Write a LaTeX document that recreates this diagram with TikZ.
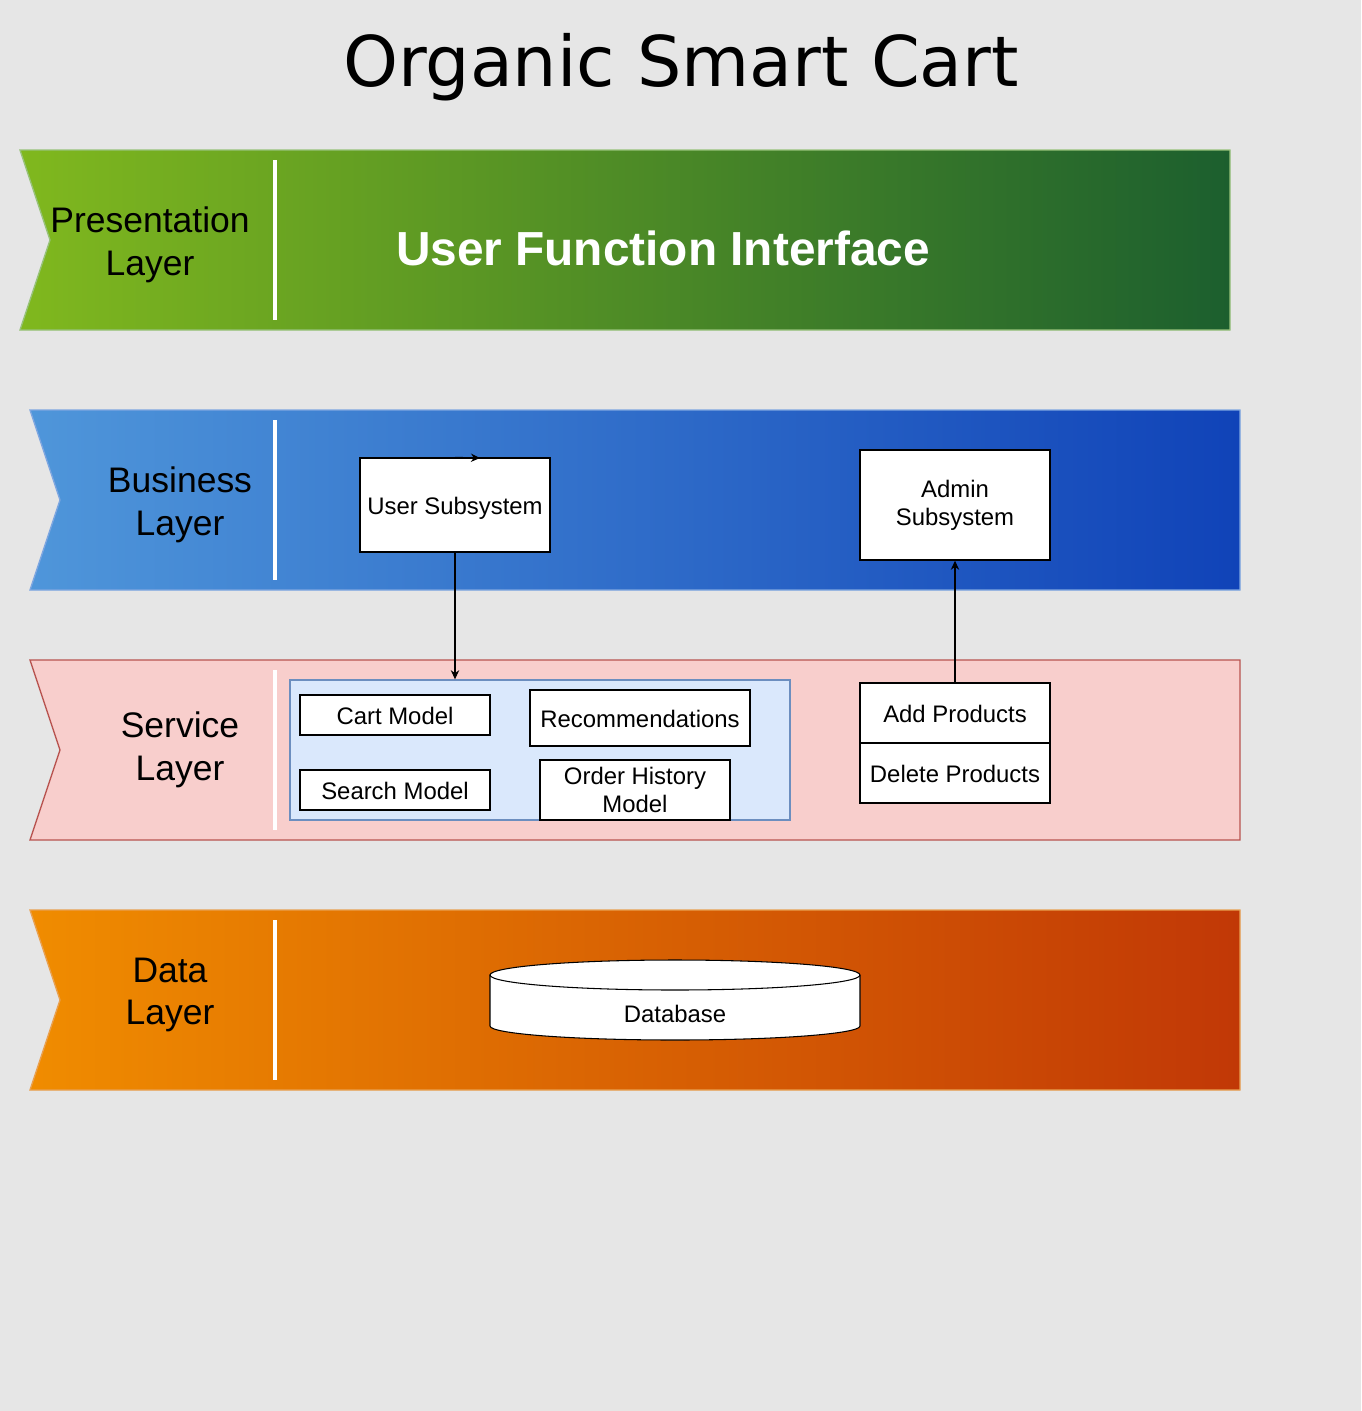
\documentclass[tikz,border=0pt]{standalone}
\usepackage{fontspec}
\setmainfont{Liberation Sans}
\newfontfamily\titlefont{DejaVu Sans}
\usetikzlibrary{arrows.meta}

\definecolor{bgcolor}{HTML}{E6E6E6}
\definecolor{presleft}{HTML}{80B81E}
\definecolor{presright}{HTML}{1C5F2E}
\definecolor{presline}{HTML}{97C27A}
\definecolor{busileft}{HTML}{4F96DA}
\definecolor{busiright}{HTML}{1043B8}
\definecolor{busiline}{HTML}{7EA6E0}
\definecolor{servfill}{HTML}{F8CECC}
\definecolor{servline}{HTML}{B85450}
\definecolor{dataleft}{HTML}{F08C00}
\definecolor{dataright}{HTML}{C13806}
\definecolor{dataline}{HTML}{E8A050}
\definecolor{groupfill}{HTML}{DAE8FC}
\definecolor{groupline}{HTML}{6C8EBF}

\tikzset{
  layerlabel/.style={align=center, font=\fontsize{10.1pt}{12.2pt}\selectfont},
  compbox/.style={draw=black, fill=white, inner sep=0pt, align=center,
    font=\fontsize{6.8pt}{8pt}\selectfont},
  oneline/.style={text height=6.6pt, text depth=1.4pt},
  link/.style={-{Stealth[length=2.6pt,width=2.4pt]}, line width=0.3pt},
  sepline/.style={white, line width=0.9pt}
}

\begin{document}
\begin{tikzpicture}
%background
\fill[bgcolor] (0,0) rectangle (13.61,-14.11);
\useasboundingbox (0,0) rectangle (13.61,-14.11);

\node[font=\titlefont\fontsize{19.9pt}{24pt}\selectfont] (title) at (6.81,-0.67) {Organic Smart Cart};

%layers
\draw[presline, left color=presleft, right color=presright] (0.2,-1.5) -- (12.3,-1.5) -- (12.3,-3.3) -- (0.2,-3.3) -- (0.5,-2.4) -- cycle;
\draw[busiline, left color=busileft, right color=busiright] (0.3,-4.1) -- (12.4,-4.1) -- (12.4,-5.9) -- (0.3,-5.9) -- (0.6,-5.0) -- cycle;
\draw[servline, fill=servfill] (0.3,-6.6) -- (12.4,-6.6) -- (12.4,-8.4) -- (0.3,-8.4) -- (0.6,-7.5) -- cycle;
\draw[dataline, left color=dataleft, right color=dataright] (0.3,-9.1) -- (12.4,-9.1) -- (12.4,-10.9) -- (0.3,-10.9) -- (0.6,-10.0) -- cycle;

\draw[sepline] (2.75,-1.6) -- (2.75,-3.2);
\draw[sepline] (2.75,-4.2) -- (2.75,-5.8);
\draw[sepline] (2.75,-6.7) -- (2.75,-8.3);
\draw[sepline] (2.75,-9.2) -- (2.75,-10.8);

\node[layerlabel] (pres) at (1.50,-2.45) {Presentation\\Layer};
\node[layerlabel] (busi) at (1.80,-5.05) {Business\\Layer};
\node[layerlabel] (serv) at (1.80,-7.50) {Service\\Layer};
\node[layerlabel] (data) at (1.70,-9.95) {Data\\Layer};

%presentation
\node[white, font=\bfseries\fontsize{13.6pt}{16pt}\selectfont] (ufi) at (6.63,-2.48) {User Function Interface};

%business
\node[compbox, oneline, minimum width=1.9cm, minimum height=0.94cm] (usersub) at (4.55,-5.05) {User Subsystem};
\node[compbox, minimum width=1.9cm, minimum height=1.1cm] (adminsub) at (9.55,-5.05) {Admin\\Subsystem};

%service
\node[draw=groupline, fill=groupfill, minimum width=5cm, minimum height=1.4cm, inner sep=0pt] (svcgroup) at (5.40,-7.50) {};
\node[compbox, oneline, minimum width=1.9cm, minimum height=0.4cm] (cart) at (3.95,-7.15) {Cart Model};
\node[compbox, oneline, minimum width=2.2cm, minimum height=0.56cm] (recom) at (6.40,-7.18) {Recommendations};
\node[compbox, oneline, minimum width=1.9cm, minimum height=0.4cm] (search) at (3.95,-7.90) {Search Model};
\node[compbox, minimum width=1.9cm, minimum height=0.6cm] (history) at (6.35,-7.90) {Order History\\Model};
\node[compbox, oneline, minimum width=1.9cm, minimum height=0.6cm] (addprod) at (9.55,-7.13) {Add Products};
\node[compbox, oneline, minimum width=1.9cm, minimum height=0.6cm] (delprod) at (9.55,-7.73) {Delete Products};

%data
\filldraw[fill=white, draw=black, line width=0.3pt] (4.9,-9.75) -- (4.9,-10.26) arc[start angle=180, end angle=360, x radius=1.85, y radius=0.14] -- (8.6,-9.75) arc[start angle=0, end angle=180, x radius=1.85, y radius=0.15] -- cycle;
\draw[line width=0.3pt] (4.9,-9.75) arc[start angle=180, end angle=360, x radius=1.85, y radius=0.15];
\node[font=\fontsize{6.8pt}{8pt}\selectfont] (db) at (6.75,-10.14) {Database};

%connectors
\coordinate (usertip) at (4.80,-4.58);
\draw[link] (usersub.north) -- (usertip);
\draw[link] (usersub.south) -- (usersub.south |- svcgroup.north);
\draw[link] (addprod.north) -- (adminsub.south);

\end{tikzpicture}
\end{document}
